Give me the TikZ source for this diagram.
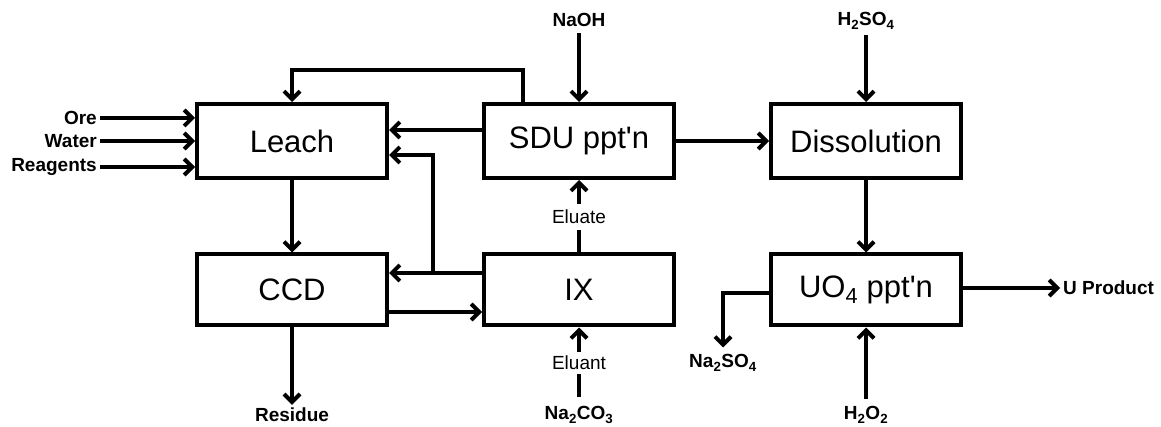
\documentclass[tikz,border=0pt]{standalone}
\usepackage{fontspec}
\setmainfont{Liberation Sans}
\usetikzlibrary{arrows.meta,calc}
\begin{document}
\begin{tikzpicture}[x=1pt,y=-1pt,
  box/.style={draw, line width=4pt, minimum width=190pt, inner sep=0pt,
    font=\fontsize{31}{31}\selectfont},
  toprow/.style={box, minimum height=74pt},
  botrow/.style={box, minimum height=71pt},
  lbl/.style={font=\bfseries\fontsize{19}{19}\selectfont, inner sep=3pt},
  rlbl/.style={font=\fontsize{19}{19}\selectfont, inner sep=3pt},
  flow/.style={line width=4pt, -{Straight Barb[length=8pt,width=16pt,line width=4pt]}},
  plain/.style={line width=4pt}]
\useasboundingbox (0,0) rectangle (1161,427);
% boxes
\node[toprow] (leach) at (292,141) {Leach};
\node[toprow] (sdu)   at (579,141) {SDU ppt\textquotesingle n};
\node[toprow] (diss)  at (866,141) {Dissolution};
\node[botrow] (ccd)   at (292,290) {CCD};
\node[botrow] (ix)    at (579,290) {IX};
\node[botrow] (uo4)   at (866,290) {UO\textsubscript{4} ppt\textquotesingle n};
% labels
\node[lbl, anchor=east] (ore)   at (100,118) {Ore};
\node[lbl, anchor=east] (water) at (100,141) {Water};
\node[lbl, anchor=east] (reag)  at (100,167) {Reagents};
\node[lbl] (naoh)   at (579,20) {NaOH};
\node[lbl] (h2so4)  at (866,21) {H\textsubscript{2}SO\textsubscript{4}};
\node[lbl] (resid)  at (292,415) {Residue};
\node[lbl] (na2co3) at (579,415) {Na\textsubscript{2}CO\textsubscript{3}};
\node[lbl] (h2o2)   at (866,415) {H\textsubscript{2}O\textsubscript{2}};
\node[lbl, inner ysep=7pt] (na2so4) at (723,363) {Na\textsubscript{2}SO\textsubscript{4}};
\node[lbl, anchor=west] (uprod) at (1060,288) {U Product};
\node[rlbl, inner ysep=6pt] (eluate) at (579,217) {Eluate};
\node[rlbl, inner ysep=3.5pt] (eluant) at (579,363) {Eluant};
% feeds to leach
\draw[flow] (ore.east) -- (ore.east -| leach.west);
\draw[flow] (water.east) -- (water.east -| leach.west);
\draw[flow] (reag.east) -- (reag.east -| leach.west);
% main flows
\draw[flow] (leach) -- (ccd);
\draw[flow] (ccd) -- (resid);
\draw[flow] (sdu) -- (diss);
\draw[flow] (diss) -- (uo4);
\draw[flow] (uo4.east |- uprod.west) -- (uprod.west);
\draw[flow, shorten <=3pt] (naoh) -- (sdu);
\draw[flow, shorten <=3pt] (h2so4) -- (diss);
\draw[flow, shorten <=5pt] (h2o2) -- (uo4);
% eluate / eluant
\draw[plain] (ix) -- (eluate);
\draw[flow] (eluate) -- (sdu);
\draw[plain, shorten <=6pt] (na2co3) -- (eluant);
\draw[flow] (eluant) -- (ix);
% recycle loops
\draw[flow] ($(sdu.north)+(-56,0)$) |- ($(leach.north)+(0,-32)$) -- (leach.north);
\draw[flow] ($(sdu.west)+(0,-11)$) -- ($(leach.east)+(0,-11)$);
\coordinate (j) at (433,273);
\draw[flow] ($(ix.west)+(0,-17)$) -- ($(ccd.east)+(0,-17)$);
\draw[flow] (j) |- ($(leach.east)+(0,14)$);
\draw[flow] ($(ccd.east)+(0,22)$) -- ($(ix.west)+(0,22)$);
% Na2SO4 bleed
\draw[flow] ($(uo4.west)+(0,3)$) -| (na2so4.north);
\end{tikzpicture}
\end{document}
